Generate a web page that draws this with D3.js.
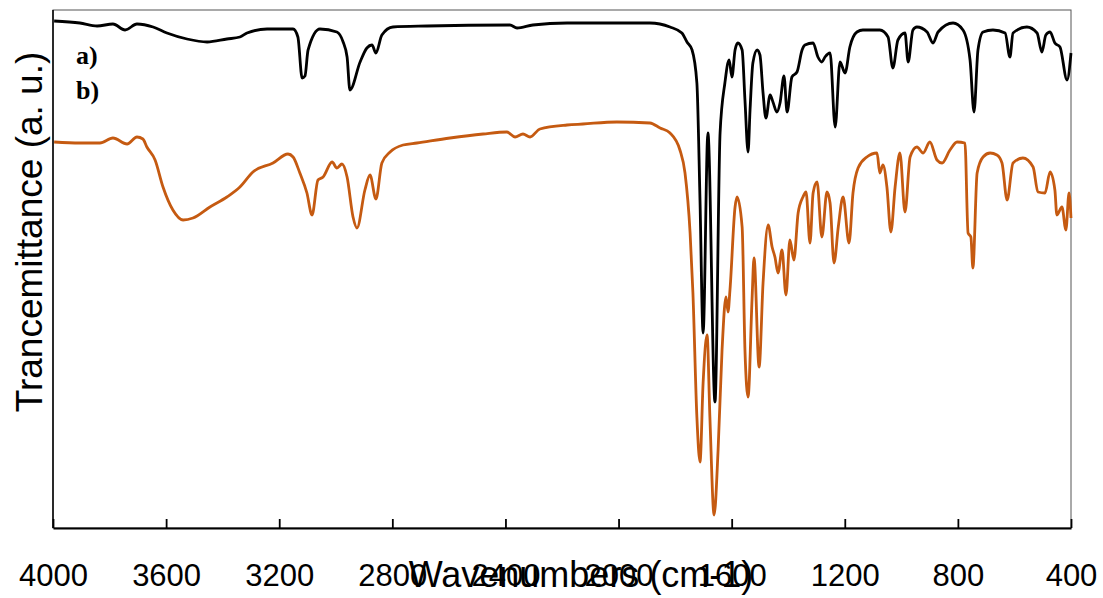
<!DOCTYPE html>
<html>
<head>
<meta charset="utf-8">
<script src="https://cdn.jsdelivr.net/npm/d3@7"></script>
<style>
  html, body { margin: 0; padding: 0; background: #fff; }
  svg { display: block; }
</style>
</head>
<body>
<svg id="chart" width="1103" height="598"></svg>
<script>
// Wavenumbers (cm-1) and transmittance (a.u.) for spectrum a)
const waveA = [3996,3905,3844,3788,3745,3703,3646,3597,3526,3455,3385,3339,3314,3243,3151,3134,3119,3109,3098,3056,2996,2974,2960,2950,2914,2890,2872,2858,2837,2798,2677,2384,2359,2303,2182,1889,1818,1776,1758,1740,1723,1712,1701,1684,1659,1641,1624,1609,1599,1588,1578,1563,1553,1542,1535,1525,1510,1500,1489,1479,1464,1454,1440,1429,1415,1404,1387,1369,1351,1341,1312,1295,1281,1270,1252,1234,1217,1199,1182,1157,1136,1076,1047,1030,1012,987,976,959,945,909,888,870,817,782,757,743,729,711,676,633,616,605,556,520,503,489,474,457,439,414,400];
const transA = [507,505,502,504,498,504,501,495,489,486,489,491,495,499,499,491,450,452,478,499,496,486,471,438,466,480,483,475,493,501,502,503,500,503,505,505,501,495,486,478,445,328,195,395,126,395,445,468,451,478,485,478,428,376,418,465,478,473,435,410,433,426,416,425,452,416,451,456,478,483,485,471,466,471,475,401,466,455,481,496,498,498,491,460,488,495,466,498,501,496,485,496,505,498,468,416,478,496,498,495,471,495,501,495,476,493,496,485,481,448,475];

// Wavenumbers (cm-1) and transmittance (a.u.) for spectrum b)
const waveB = [3996,3905,3834,3788,3738,3703,3682,3668,3639,3611,3576,3540,3505,3445,3385,3339,3293,3222,3169,3151,3127,3102,3084,3063,3045,3013,2996,2978,2960,2939,2925,2897,2879,2858,2837,2808,2762,2713,2596,2479,2395,2366,2338,2313,2278,2182,2126,2006,1889,1853,1818,1783,1765,1747,1737,1723,1712,1701,1687,1677,1662,1648,1634,1620,1613,1606,1588,1581,1563,1553,1542,1528,1521,1503,1489,1471,1457,1447,1436,1422,1408,1394,1380,1365,1348,1337,1323,1312,1298,1281,1263,1252,1238,1223,1206,1185,1171,1153,1122,1086,1076,1065,1051,1037,1022,1005,987,969,945,923,899,874,856,828,803,775,764,754,747,732,711,686,662,644,626,605,570,534,517,492,474,457,450,432,418,407,400];
const transB = [386,385,385,390,384,391,389,381,368,341,318,308,310,321,331,341,356,365,374,371,355,335,313,348,351,366,360,364,351,311,300,338,353,329,365,376,383,385,390,394,396,391,394,391,399,403,404,406,405,400,395,378,355,295,235,111,66,145,193,111,13,78,178,231,216,238,321,331,301,178,131,228,270,161,245,303,281,271,255,278,233,288,268,315,331,336,285,335,346,291,336,325,265,301,331,285,335,360,371,375,355,363,341,296,341,375,316,371,381,375,386,368,365,378,386,385,295,291,260,355,371,375,373,365,328,365,370,361,336,335,356,338,313,321,298,335,310];

const xTicks = [4000,3600,3200,2800,2400,2000,1600,1200,800,400];
const seriesLabels = ["a)", "b)"];
const seriesColors = ["#000000", "#C55A11"];

const svg = d3.select("#chart");
const m = {left: 53, right: 1071, top: 10, bottom: 528};

const x = d3.scaleLinear().domain([4000, 400]).range([m.left, m.right]);
const y = d3.scaleLinear().domain([0, 518]).range([m.bottom, m.top]);

// frame (top & right)
svg.append("rect")
  .attr("x", m.left).attr("y", m.top)
  .attr("width", m.right - m.left).attr("height", m.bottom - m.top)
  .attr("fill", "none").attr("stroke", "#555").attr("stroke-width", 1);

// series
const line = d3.line().curve(d3.curveMonotoneX)
  .x(d => x(d[0])).y(d => y(d[1]));
const dataA = waveA.map((w, i) => [w, transA[i]]);
const dataB = waveB.map((w, i) => [w, transB[i]]);

svg.append("path").datum(dataB)
  .attr("d", line).attr("fill", "none")
  .attr("stroke", seriesColors[1]).attr("stroke-width", 2.8)
  .attr("stroke-linejoin", "round");
svg.append("path").datum(dataA)
  .attr("d", line).attr("fill", "none")
  .attr("stroke", seriesColors[0]).attr("stroke-width", 2.8)
  .attr("stroke-linejoin", "round");

// left axis line
svg.append("line")
  .attr("x1", m.left).attr("x2", m.left)
  .attr("y1", m.top).attr("y2", m.bottom)
  .attr("stroke", "#000").attr("stroke-width", 1.5);

// bottom axis
const xAxis = d3.axisBottom(x).tickValues(xTicks).tickSizeInner(-9).tickSizeOuter(0).tickPadding(40)
  .tickFormat(d3.format("d"));
const gx = svg.append("g").attr("transform", `translate(0,${m.bottom})`).call(xAxis);
gx.select(".domain").attr("stroke", "#000").attr("stroke-width", 2);
gx.selectAll(".tick line").attr("stroke", "#000").attr("stroke-width", 1.8);
gx.selectAll(".tick text")
  .attr("font-family", "'Liberation Sans', Arial, sans-serif")
  .attr("font-size", 31).attr("fill", "#000")
  .attr("dy", null).attr("y", 58);

// axis titles
svg.append("text")
  .attr("x", 581).attr("y", 587)
  .attr("text-anchor", "middle")
  .attr("font-family", "'Liberation Sans', Arial, sans-serif")
  .attr("font-size", 36).attr("fill", "#000")
  .text("Wavenumbers (cm-1)");

svg.append("text")
  .attr("transform", "translate(42,232) rotate(-90)")
  .attr("text-anchor", "middle")
  .attr("font-family", "'Liberation Sans', Arial, sans-serif")
  .attr("font-size", 37).attr("fill", "#000")
  .text("Trancemittance (a. u.)");

// series labels
svg.selectAll(".lbl").data(seriesLabels).enter().append("text")
  .attr("class", "lbl")
  .attr("x", 76).attr("y", (d, i) => 64 + i * 35)
  .attr("font-family", "'Liberation Serif', 'Times New Roman', serif")
  .attr("font-weight", "bold").attr("font-size", 26).attr("fill", "#000")
  .text(d => d);
</script>
</body>
</html>
